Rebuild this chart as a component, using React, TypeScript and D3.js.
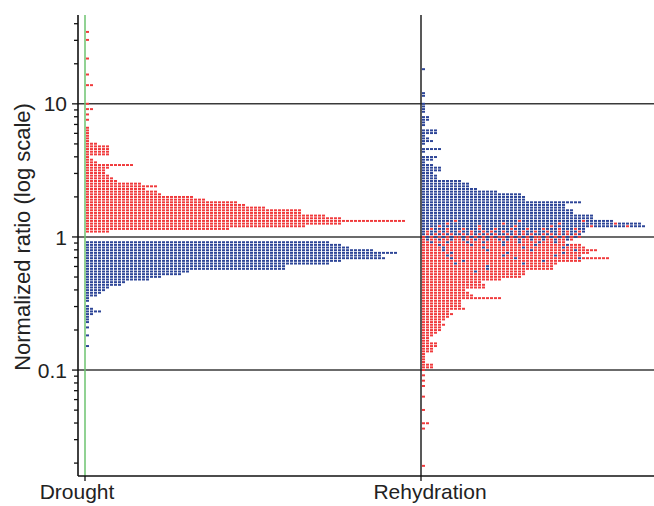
import React from "react";
import * as d3 from "d3";

// each bin is 0.02 in log10(ratio); value = number of proteins in that bin
const conditions = ["Drought", "Rehydration"];
const yTickLabels = ["0.1", "1", "10"];

const droughtRedBins = [0.04, 0.06, 0.08, 0.1, 0.12, 0.14, 0.16, 0.18, 0.2, 0.22, 0.24, 0.26, 0.28, 0.3, 0.32, 0.34, 0.36, 0.38, 0.4, 0.42, 0.44, 0.46, 0.48, 0.5, 0.52, 0.54, 0.56, 0.58, 0.6, 0.62, 0.64, 0.66, 0.68, 0.7, 0.72, 0.74, 0.76, 0.78, 0.8, 0.82, 0.88, 0.92, 0.96, 1.0, 1.14, 1.22, 1.34, 1.48, 1.54];
const droughtRedCounts = [6, 36, 55, 64, 80, 64, 60, 54, 54, 45, 40, 38, 30, 27, 19, 18, 15, 18, 14, 8, 7, 6, 5, 5, 6, 12, 3, 2, 1, 6, 6, 6, 6, 3, 1, 1, 1, 1, 1, 1, 1, 1, 2, 1, 2, 1, 1, 1, 1];

const droughtBlueBins = [-0.04, -0.06, -0.08, -0.1, -0.12, -0.14, -0.16, -0.18, -0.2, -0.22, -0.24, -0.26, -0.28, -0.3, -0.32, -0.34, -0.36, -0.38, -0.4, -0.42, -0.44, -0.46, -0.48, -0.52, -0.54, -0.56, -0.58, -0.6, -0.62, -0.64, -0.68, -0.74, -0.82];
const droughtBlueCounts = [61, 64, 66, 72, 78, 74, 75, 64, 61, 50, 50, 26, 24, 19, 16, 10, 9, 6, 5, 4, 3, 1, 1, 1, 2, 4, 2, 1, 1, 1, 1, 1, 1];

const rehydBins = [1.26, 1.08, 1.06, 1.0, 0.98, 0.96, 0.94, 0.9, 0.88, 0.86, 0.84, 0.8, 0.78, 0.76, 0.74, 0.72, 0.7, 0.66, 0.64, 0.6, 0.58, 0.56, 0.54, 0.52, 0.5, 0.48, 0.46, 0.44, 0.42, 0.4, 0.38, 0.36, 0.34, 0.32, 0.3, 0.28, 0.26, 0.24, 0.22, 0.2, 0.18, 0.16, 0.14, 0.12, 0.1, 0.08, 0.06, 0.04, 0.02, 0.0, -0.02, -0.04, -0.06, -0.08, -0.1, -0.12, -0.14, -0.16, -0.18, -0.2, -0.22, -0.24, -0.26, -0.28, -0.3, -0.32, -0.34, -0.36, -0.38, -0.4, -0.42, -0.44, -0.46, -0.48, -0.5, -0.52, -0.54, -0.56, -0.58, -0.6, -0.62, -0.64, -0.66, -0.68, -0.7, -0.72, -0.74, -0.76, -0.78, -0.8, -0.82, -0.84, -0.86, -0.88, -0.9, -0.92, -0.94, -0.96, -0.98, -1.0, -1.04, -1.08, -1.12, -1.2, -1.3, -1.4, -1.44, -1.72];
// rehydration counts split by drought colour (up in drought = red, down = blue)
const rehydBlueCounts = [1, 1, 1, 1, 1, 1, 1, 2, 2, 1, 1, 4, 4, 1, 2, 3, 1, 5, 1, 4, 3, 1, 3, 5, 5, 3, 4, 4, 10, 12, 12, 14, 19, 25, 26, 26, 40, 36, 36, 38, 38, 43, 43, 45, 51, 50, 31, 26, 22, 18, 13, 8, 5, 4, 4, 3, 3, 3, 2, 2, 1, 1, 1, 0, 0, 0, 0, 0, 0, 0, 0, 0, 0, 0, 0, 0, 0, 0, 0, 0, 0, 0, 0, 0, 0, 0, 0, 0, 0, 0, 0, 0, 0, 0, 0, 0, 0, 0, 0, 0, 0, 0, 0, 0, 0, 0, 0, 0];
const rehydRedCounts = [0, 0, 0, 0, 0, 0, 0, 0, 0, 0, 0, 0, 0, 0, 0, 0, 0, 0, 0, 0, 0, 0, 0, 0, 0, 0, 0, 0, 0, 0, 0, 0, 0, 0, 0, 0, 0, 0, 0, 0, 0, 0, 0, 3, 4, 6, 10, 15, 18, 22, 25, 28, 35, 37, 40, 39, 37, 44, 38, 32, 32, 32, 25, 26, 25, 20, 15, 16, 16, 11, 12, 13, 20, 10, 10, 10, 11, 7, 8, 7, 6, 5, 6, 5, 5, 4, 3, 2, 2, 4, 4, 3, 3, 1, 1, 1, 1, 3, 3, 1, 1, 1, 1, 1, 1, 2, 1, 1];

const RED = "#f03a3c";
const BLUE = "#2d4597";
const W = 654;
const H = 506;

function App() {
  const y = d3.scaleLog().domain([0.016, 46.5]).range([476, 15]);
  const xBase = d3.scalePoint().domain(conditions).range([85, 421]);
  const col = d3.scaleLinear().domain([0, 1]).range([0, 4]);
  const BIN = 0.02;
  const rowH = y(Math.pow(10, -BIN / 2)) - y(Math.pow(10, BIN / 2));

  const cells: { x: number; y: number; c: string }[] = [];
  const pushRow = (base: number, L: number, colours: string[]) => {
    const cy = y(Math.pow(10, L));
    colours.forEach((c, i) => cells.push({ x: base + 1 + col(i), y: cy - rowH / 2 + 0.3, c }));
  };

  const dx = xBase("Drought")!;
  droughtRedBins.forEach((L, i) => pushRow(dx, L, d3.range(droughtRedCounts[i]).map(() => RED)));
  droughtBlueBins.forEach((L, i) => pushRow(dx, L, d3.range(droughtBlueCounts[i]).map(() => BLUE)));

  const rx = xBase("Rehydration")!;
  rehydBins.forEach((L, i) => {
    const b = rehydBlueCounts[i];
    const r = rehydRedCounts[i];
    const n = b + r;
    const major = b >= r ? BLUE : RED;
    const minor = b >= r ? RED : BLUE;
    const m = Math.min(b, r);
    const spots = new Set(d3.range(m).map((k) => Math.floor(((k + 0.5) * n) / m)));
    pushRow(rx, L, d3.range(n).map((j) => (spots.has(j) ? minor : major)));
  });

  const ticks = y.ticks();
  const majors = [0.1, 1, 10];
  const font = "'Liberation Sans', Arial, sans-serif";

  return (
    <svg width={W} height={H} style={{ position: "absolute", left: 0, top: 0, background: "#fff" }}>
      {/* grid lines */}
      {majors.map((v) => (
        <line key={v} x1={78} x2={W} y1={y(v)} y2={y(v)} stroke="#3a3a3a" strokeWidth={1.5} />
      ))}
      <line x1={rx} x2={rx} y1={15} y2={476} stroke="#222" strokeWidth={1.5} />
      <line x1={dx} x2={dx} y1={15} y2={476} stroke="#6cc36f" strokeWidth={1.5} />

      {cells.map((d, i) => (
        <rect key={i} x={d.x} y={d.y} width={3} height={rowH - 0.7} fill={d.c} />
      ))}

      {/* y axis */}
      <line x1={78} x2={78} y1={15} y2={476} stroke="#111" strokeWidth={1.6} />
      {ticks.map((t, i) => {
        const isMajor = majors.some((m) => Math.abs(m - t) < 1e-9);
        return <line key={i} x1={isMajor ? 72 : 74} x2={78} y1={y(t)} y2={y(t)} stroke="#111" strokeWidth={1.3} />;
      })}
      {majors.map((v, i) => (
        <text key={v} x={67} y={y(v)} dy="0.36em" textAnchor="end" fontFamily={font} fontSize={21} fill="#222">
          {yTickLabels[i]}
        </text>
      ))}
      <text
        transform={`translate(30, ${y(1)}) rotate(-90)`}
        textAnchor="middle"
        fontFamily={font}
        fontSize={22}
        fill="#222"
      >
        Normalized ratio (log scale)
      </text>

      {/* x axis */}
      <line x1={78} x2={W} y1={476} y2={476} stroke="#111" strokeWidth={1.6} />
      {conditions.map((c) => (
        <line key={c} x1={xBase(c)} x2={xBase(c)} y1={476} y2={481} stroke="#111" strokeWidth={1.3} />
      ))}
      {conditions.map((c, i) => (
        <text key={c} x={xBase(c)! + (i === 0 ? -8 : 9)} y={499} textAnchor="middle" fontFamily={font} fontSize={21} fill="#222">
          {c}
        </text>
      ))}
    </svg>
  );
}

export default App;
